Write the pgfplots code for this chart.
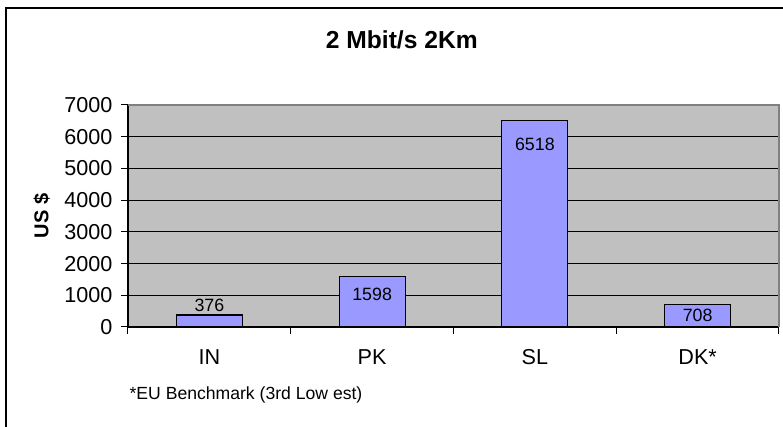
\documentclass[border=0pt]{standalone}
\usepackage{pgfplots}
\pgfplotsset{compat=1.18}
\usepackage{pgfplotstable}
\usepackage{fontspec}
\setmainfont{Liberation Sans}

\definecolor{plotbg}{RGB}{192,192,192}
\definecolor{barfill}{RGB}{153,153,255}
\definecolor{plotedge}{RGB}{128,128,128}

% cost per country; off = label drop below the bar top (pt)
\pgfplotstableread{
x y off
0 376 -5.0
1 1598 9.15
2 6518 12.15
3 708 5.2
}\costs

\begin{document}
\begin{tikzpicture}[x=1pt,y=1pt]
\path[use as bounding box] (-64,-50) rectangle (327.5,163.5);
% chart frame
\draw[line width=0.6pt] (-61,-60) -- (-61,159.5) -- (340,159.5);
\node[font=\bfseries\fontsize{12.3}{14}\selectfont] at (136.9,143.8) {2 Mbit/s 2Km};
\begin{axis}[
  at={(0,0)}, anchor=south west,
  scale only axis, width=325.5pt, height=111pt,
  xmin=-0.5, xmax=3.5, ymin=0, ymax=7000,
  axis x line=bottom, axis y line=left,
  axis line style={-, black, line width=0.6pt},
  axis background/.style={fill=plotbg},
  ytick={0,1000,...,7000},
  scaled y ticks=false,
  /pgf/number format/1000 sep={},
  /pgf/number format/assume math mode=true,
  ymajorgrids,
  major grid style={black, line width=0.5pt},
  tick align=outside,
  major tick length=3.5pt,
  ytick style={black, line width=0.5pt},
  xtick={0,1,2,3},
  xticklabels={IN,PK,SL,DK*},
  xtick style={draw=none},
  ticklabel style={font=\fontsize{10.8}{12}\selectfont},
  yticklabel style={xshift=-0.8pt},
  xticklabel style={anchor=base, yshift=-15.5pt},
  ylabel={US \$},
  every axis y label/.style={at={(axis description cs:-0.1327,0.5)}, rotate=90, anchor=center, font=\bfseries\fontsize{10}{12}\selectfont},
  clip=false,
  after end axis/.code={
    \draw[plotedge, line width=0.6pt] (rel axis cs:0,1) -- (rel axis cs:1,1) -- (rel axis cs:1,0);
    \foreach \b in {-0.5,0.5,1.5,2.5,3.5}{
      \draw[black, line width=0.5pt] (axis cs:\b,0) -- ++(0,-3.5pt);
    }
    \node[anchor=west, inner sep=0pt, font=\fontsize{8.8}{10}\selectfont] at (rel axis cs:0,0) [yshift=-34pt, xshift=0.6pt] {*EU Benchmark (3rd Low est)};
  },
]
\addplot[ybar, bar width=0.4055, fill=barfill, draw=black, line width=0.6pt,
  point meta=y,
  nodes near coords={\pgfmathprintnumber[1000 sep={},assume math mode=true]{\pgfplotspointmeta}},
  visualization depends on={\thisrow{off}\as\off},
  every node near coord/.append style={anchor=center, yshift={(-1)*(\off)*1pt}, font=\fontsize{8.9}{10}\selectfont, black},
] table[x=x,y=y]{\costs};
\end{axis}
\end{tikzpicture}
\end{document}
